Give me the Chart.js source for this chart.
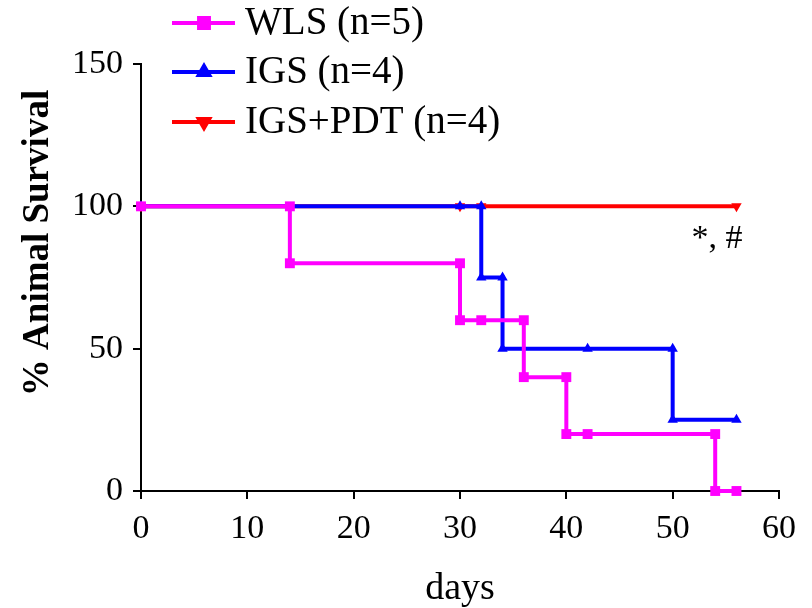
<!DOCTYPE html>
<html lang="en">
<head>
  <meta charset="UTF-8">
  <title>Animal Survival</title>
  <script src="https://cdn.jsdelivr.net/npm/chart.js"></script>
  <style>
    body { margin: 0; padding: 0; background: #ffffff; }
    #wrap { width: 812px; height: 608px; }
  </style>
</head>
<body>
<div id="wrap"><canvas id="survivalChart" width="812" height="608"></canvas></div>

<script>
  // Kaplan-Meier steps (both corners of each drop listed, plus censored marks)
  const wlsDays = [0, 14, 14, 30, 30, 32, 36, 36, 40, 40, 42, 54, 54, 56];
  const wlsSurvival = [100, 100, 80, 80, 60, 60, 60, 40, 40, 20, 20, 20, 0, 0];

  const igsDays = [0, 30, 32, 32, 34, 34, 42, 50, 50, 56];
  const igsSurvival = [100, 100, 100, 75, 75, 50, 50, 50, 25, 25];

  const pdtDays = [0, 30, 32, 56];
  const pdtSurvival = [100, 100, 100, 100];

  const seriesLabels = ['WLS (n=5)', 'IGS (n=4)', 'IGS+PDT (n=4)'];
  const xTicks = [0, 10, 20, 30, 40, 50, 60];
  const yTicks = [0, 50, 100, 150];

  const serif = "'Liberation Serif', 'Times New Roman', serif";

  function toPoints(xs, ys) {
    return xs.map((x, i) => ({ x: x, y: ys[i] }));
  }

  // draws legend (line + marker + label), y title and the "*, #" note
  const extrasPlugin = {
    id: 'extras',
    afterDraw(chart) {
      const ctx = chart.ctx;
      const rows = [23, 72, 122];
      chart.data.datasets.forEach((ds, i) => {
        const y = rows[i];
        ctx.save();
        ctx.strokeStyle = ds.borderColor;
        ctx.lineWidth = 4;
        ctx.beginPath();
        ctx.moveTo(172, y);
        ctx.lineTo(235, y);
        ctx.stroke();
        ctx.fillStyle = ds.borderColor;
        Chart.helpers.drawPoint(ctx, {
          pointStyle: ds.pointStyle,
          rotation: ds.pointRotation || 0,
          radius: ds.pointRadius,
          borderWidth: 1
        }, 204, y);
        ctx.fillStyle = '#000';
        ctx.font = '39px ' + serif;
        ctx.textAlign = 'left';
        ctx.textBaseline = 'middle';
        ctx.fillText(ds.label, 245, y + 1);
        ctx.restore();
      });

      // y axis title
      ctx.save();
      ctx.translate(48, 243);
      ctx.rotate(-Math.PI / 2);
      ctx.fillStyle = '#000';
      ctx.font = 'bold 37px ' + serif;
      ctx.textAlign = 'center';
      ctx.textBaseline = 'alphabetic';
      ctx.fillText('% Animal Survival', 0, 0);
      ctx.restore();

      // significance note under the IGS+PDT end point
      const xs = chart.scales.x, ys = chart.scales.y;
      ctx.save();
      ctx.fillStyle = '#000';
      ctx.font = '34px ' + serif;
      ctx.textAlign = 'right';
      ctx.textBaseline = 'alphabetic';
      ctx.fillText('*, #', xs.getPixelForValue(56) + 6, ys.getPixelForValue(100) + 42);
      ctx.restore();
    }
  };

  const ctx = document.getElementById('survivalChart').getContext('2d');
  const survivalChart = new Chart(ctx, {
    type: 'line',
    data: {
      datasets: [{
        label: seriesLabels[0],
        data: toPoints(wlsDays, wlsSurvival),
        borderColor: '#ff00ff',
        backgroundColor: '#ff00ff',
        borderWidth: 4,
        pointStyle: 'rect',
        pointRadius: 7,
        pointBorderWidth: 0,
        clip: false
      }, {
        label: seriesLabels[1],
        data: toPoints(igsDays, igsSurvival),
        borderColor: '#0000ff',
        backgroundColor: '#0000ff',
        borderWidth: 4,
        pointStyle: 'triangle',
        pointRadius: 6,
        pointBorderWidth: 0,
        clip: false
      }, {
        label: seriesLabels[2],
        data: toPoints(pdtDays, pdtSurvival),
        borderColor: '#ff0000',
        backgroundColor: '#ff0000',
        borderWidth: 4,
        pointStyle: 'triangle',
        pointRotation: 180,
        pointRadius: 6,
        pointBorderWidth: 0,
        clip: false
      }]
    },
    options: {
      responsive: false,
      animation: false,
      devicePixelRatio: 1,
      layout: { padding: { top: 64, right: 33, left: 0, bottom: 0 } },
      plugins: {
        legend: { display: false },
        tooltip: { enabled: false }
      },
      scales: {
        x: {
          type: 'linear',
          min: 0,
          max: 60,
          afterBuildTicks: (s) => { s.ticks = xTicks.map(v => ({ value: v })); },
          afterFit: (s) => { s.height = 117; },
          border: { color: '#000', width: 2 },
          grid: { drawOnChartArea: false, drawTicks: true, tickLength: 8, color: '#000', lineWidth: 2 },
          ticks: { color: '#000', font: { family: serif, size: 34 }, padding: 10, maxRotation: 0 },
          title: { display: true, text: 'days', color: '#000', font: { family: serif, size: 38 }, padding: { top: 0, bottom: -4 } }
        },
        y: {
          type: 'linear',
          min: 0,
          max: 150,
          afterBuildTicks: (s) => { s.ticks = yTicks.map(v => ({ value: v })); },
          afterFit: (s) => { s.width = 141; },
          border: { color: '#000', width: 2 },
          grid: { drawOnChartArea: false, drawTicks: true, tickLength: 8, color: '#000', lineWidth: 2 },
          ticks: { color: '#000', font: { family: serif, size: 34 }, padding: 10 }
        }
      }
    },
    plugins: [extrasPlugin]
  });
</script>
</body>
</html>
